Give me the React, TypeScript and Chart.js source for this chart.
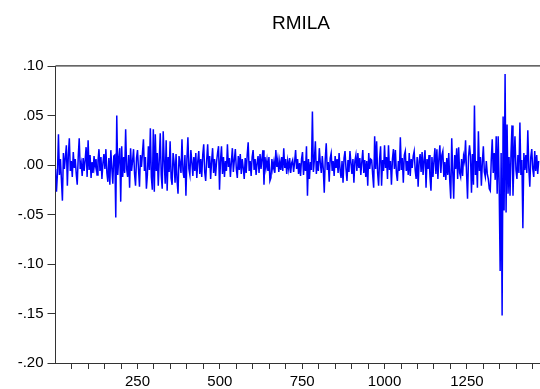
import React, { useEffect, useRef } from "react";
import { Chart, registerables } from "chart.js";

Chart.register(...registerables);

const TITLE = "RMILA";
const OBS_FIRST = 1;
const OBS_STEP = 3;
const X_MIN = 1;
const X_MAX = 1472;
const X_MINOR_TICKS = [50, 100, 150, 200, 250, 300, 350, 400, 450, 500, 550, 600, 650, 700, 750, 800, 850, 900, 950, 1000, 1050, 1100, 1150, 1200, 1250, 1300, 1350, 1400, 1450];
const X_LABELED = [250, 500, 750, 1000, 1250];
const Y_MIN = -0.2;
const Y_MAX = 0.1;
const Y_TICKS = [-0.2, -0.15, -0.1, -0.05, 0, 0.05, 0.1];

const RMILA = [
  -.004, -.027, -.008, .031, -.010, .006, -.015, -.036, .012, -.004,
  .008, .020, -.021, .010, .027, -.006, .004, -.012, .013, -.003,
  .006, -.009, -.020, .008, .027, -.004, .002, -.011, .007, -.006,
  .005, .018, -.012, .025, -.005, .010, -.013, .003, -.008, .009,
  -.002, .006, -.010, .004, .016, -.006, .008, -.014, .002, .011,
  -.004, .016, -.008, -.017, .007, -.020, .015, -.003, -.019, .009,
  .010, -.053, .050, -.010, .006, .017, -.037, .019, -.012, .008,
  -.008, .036, -.004, -.012, .010, -.023, .017, -.006, .004, .016,
  -.009, -.021, .007, .015, -.004, -.022, .010, -.002, .012, .026,
  -.006, .008, -.024, -.010, .019, -.005, .037, -.012, -.025, .036,
  -.027, .031, -.006, .012, -.021, .005, .032, -.010, -.024, .034,
  .004, -.019, .025, -.026, .008, -.007, .024, -.013, -.020, .012,
  .003, -.018, .011, -.015, -.029, .009, .002, -.008, .026, -.006,
  -.013, .010, -.031, .006, .028, -.004, -.010, .015, .003, -.011,
  .008, -.006, .012, -.013, .004, .014, -.009, .006, -.012, .010,
  .021, -.007, -.016, .005, .021, -.003, .009, -.014, .004, .017,
  -.008, .006, -.011, .003, .012, .019, -.025, .005, .019, -.009,
  .008, -.012, .004, -.006, .021, -.002, .007, -.012, .003, .017,
  -.007, .005, .016, -.004, -.013, .009, -.005, .011, -.009, .006,
  -.003, -.014, .007, -.008, .010, .023, -.006, .004, -.011, .008,
  .015, -.005, .006, -.010, .002, .009, -.008, .011, -.004, .007,
  .015, -.020, .008, -.003, .005, -.006, .008, -.016, -.013, .006,
  -.004, .003, -.008, .015, -.002, .006, -.007, .004, -.005, .008,
  -.006, .017, -.003, .006, -.009, .004, -.004, .007, -.008, .002,
  .005, -.007, .003, .015, -.004, .006, -.009, .002, -.011, .006,
  .013, -.010, .004, -.006, .019, -.031, .006, -.014, .003, -.005,
  .054, -.007, .005, .024, -.009, .004, -.006, .017, .002, -.008,
  .009, -.004, -.028, .006, .022, -.005, .003, -.017, .007, .012,
  -.006, .004, -.011, .009, -.003, .006, -.008, .012, -.005, -.013,
  .004, -.018, .007, .014, -.004, -.016, .005, -.007, .014, .002,
  -.009, .006, -.018, .004, .010, -.006, .012, -.003, .007, -.010,
  .003, .015, -.008, .005, -.012, .004, -.021, .012, -.004, .006,
  .005, -.010, -.023, .029, -.004, .024, -.008, -.021, .006, .019,
  -.021, .005, -.006, .020, -.003, .008, -.014, .020, -.005, .004,
  -.020, .006, .016, -.004, .015, -.008, -.016, .004, -.006, .028,
  -.005, .007, -.018, .010, .014, -.006, .004, -.010, .012, -.011,
  .006, -.003, .009, .014, -.005, -.014, .008, -.022, .004, .011,
  -.007, .013, -.010, .005, .015, -.023, .006, -.004, .010, -.012,
  -.026, .008, -.012, .004, .017, -.009, .016, -.014, .006, .020,
  -.008, .010, .014, -.012, .003, -.015, .007, -.010, .012, -.016,
  -.034, .027, -.006, -.034, .010, -.004, .017, -.014, .018, -.008,
  -.012, .006, -.011, .009, .004, .025, -.008, -.034, .008, .020,
  .009, -.028, .011, -.020, .060, -.010, .004, -.023, .034, -.006,
  .008, -.021, .003, .019, -.007, -.012, .004, -.009, -.014, -.024,
  -.026, .005, .026, -.008, .012, -.015, .029, -.029, .029, -.020,
  -.107, .012, -.152, .049, -.046, .092, -.048, .041, -.029, .008,
  -.031, .012, .040, -.031, .006, .029, -.005, -.014, .010, -.008,
  .043, -.010, .005, -.064, .012, -.005, .010, -.008, .035, -.003,
  -.022, .008, .016, -.004, -.012, .014, -.006, .010, -.009, .004,
];

const FONT_FAMILY = '"Liberation Sans", Arial, Helvetica, sans-serif';

function fmtY(v: number): string {
  const s = Math.abs(v) < 1e-9 ? "0.00" : v.toFixed(2);
  return s.replace("0.", ".");
}

export default function App() {
  const ref = useRef<HTMLCanvasElement>(null);

  useEffect(() => {
    const canvas = ref.current;
    if (!canvas) return;
    const points = RMILA.map((v, i) => ({ x: OBS_FIRST + i * OBS_STEP, y: v }));
    const font = { family: FONT_FAMILY, size: 15 };

    const framePlugin = {
      id: "frameAndTitle",
      afterDraw(chart: any) {
        const { ctx, chartArea } = chart;
        ctx.save();
        ctx.strokeStyle = "#333333";
        ctx.lineWidth = 1.3;
        ctx.beginPath();
        ctx.moveTo(chartArea.left, chartArea.top - 0.2);
        ctx.lineTo(chartArea.right, chartArea.top - 0.2);
        ctx.stroke();
        ctx.fillStyle = "#000000";
        ctx.font = `19px ${FONT_FAMILY}`;
        ctx.textAlign = "center";
        ctx.textBaseline = "alphabetic";
        ctx.fillText(TITLE, 301, 29);
        ctx.restore();
      },
    };

    const chart = new Chart(canvas, {
      type: "line",
      data: {
        datasets: [
          {
            label: TITLE,
            data: points,
            borderColor: "#0000ff",
            borderWidth: 1.5,
            pointRadius: 0,
            tension: 0,
            fill: false,
          },
        ],
      },
      options: {
        animation: false,
        responsive: false,
        events: [],
        layout: { padding: { left: 15.5, top: 66, right: 0, bottom: 0 } },
        plugins: {
          legend: { display: false },
          title: { display: false },
          tooltip: { enabled: false },
        },
        scales: {
          x: {
            type: "linear",
            min: X_MIN,
            max: X_MAX,
            afterBuildTicks: (s: any) => {
              s.ticks = X_MINOR_TICKS.map((v) => ({ value: v }));
            },
            afterFit: (s: any) => {
              s.height = 26;
            },
            ticks: {
              autoSkip: false,
              maxRotation: 0,
              minRotation: 0,
              padding: 4,
              color: "#000000",
              font,
              callback: (v: any) => (X_LABELED.includes(Number(v)) ? String(v) : ""),
            },
            grid: {
              drawOnChartArea: false,
              drawTicks: true,
              tickLength: 6,
              tickColor: "#333333",
              tickWidth: 1,
            },
            border: { display: true, color: "#333333", width: 1 },
          },
          y: {
            type: "linear",
            min: Y_MIN,
            max: Y_MAX,
            afterBuildTicks: (s: any) => {
              s.ticks = Y_TICKS.map((v) => ({ value: v }));
            },
            afterFit: (s: any) => {
              s.width = 40;
            },
            ticks: {
              padding: 4,
              color: "#000000",
              font,
              callback: (v: any) => fmtY(Number(v)),
            },
            grid: {
              drawOnChartArea: false,
              drawTicks: true,
              tickLength: 8,
              tickColor: "#333333",
              tickWidth: 1,
            },
            border: { display: true, color: "#333333", width: 1 },
          },
        },
      },
      plugins: [framePlugin],
    });

    return () => chart.destroy();
  }, []);

  return (
    <div style={{ position: "absolute", left: 0, top: 0, width: 540, height: 389, background: "#fff" }}>
      <canvas ref={ref} width={540} height={389} style={{ display: "block" }} />
    </div>
  );
}
